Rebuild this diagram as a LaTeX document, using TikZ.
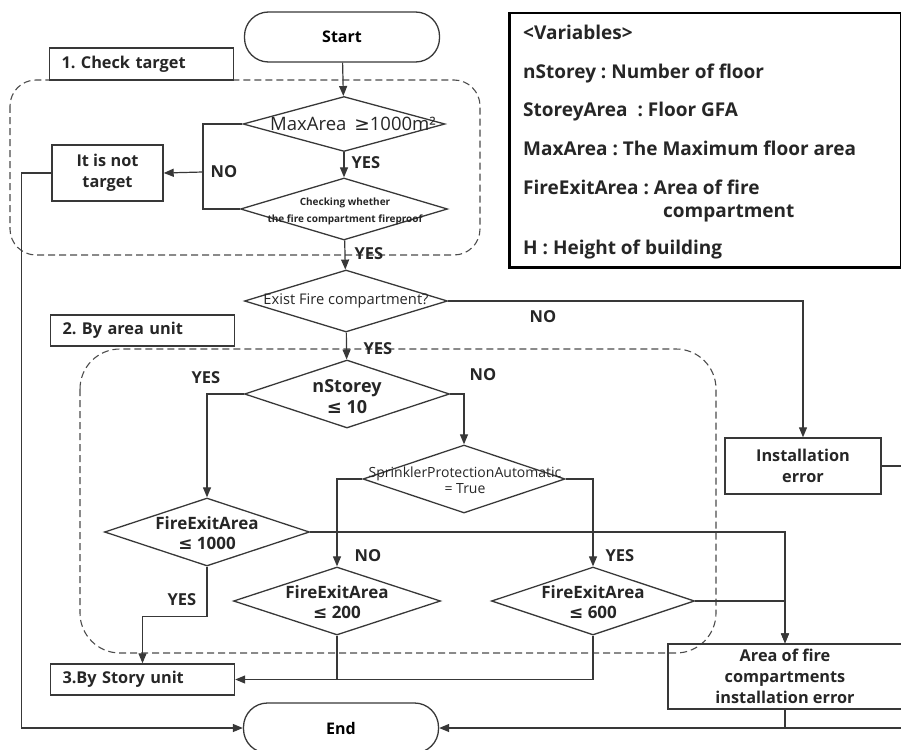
\documentclass[tikz,border=0pt]{standalone}
\usepackage{fontspec}
\setmainfont{Open Sans}
\newfontfamily\symfont{DejaVu Sans}
\newcommand{\lesym}{{\symfont ≤}}
\newcommand{\gesym}{{\symfont ≥}}
\frenchspacing
\usetikzlibrary{shapes.geometric,arrows.meta}

\begin{document}
\begin{tikzpicture}[x=1pt,y=-1pt,
  ink/.style={draw=black!78, line width=1.2pt},
  line/.style={ink},
  arr/.style={ink, -{Triangle[length=10pt,width=8pt]}},
  term/.style={ink, line width=1.3pt, rounded corners=24pt, minimum width=195pt,
    minimum height=50pt, inner sep=0pt, font=\bfseries\fontsize{16}{18}\selectfont},
  dia/.style={ink, line width=1.3pt, diamond, inner sep=0pt},
  dtext/.style={inner sep=0pt, align=center, text=black!85},
  box/.style={ink, line width=1.4pt, rectangle, inner sep=0pt, align=center,
    text=black!85, font=\bfseries\fontsize{16.3}{21}\selectfont},
  tagbox/.style={box, text width=160pt, align=left, inner xsep=12pt, minimum height=32pt},
  grp/.style={draw=black!70, line width=1.1pt, dash pattern=on 7pt off 4pt},
  lbl/.style={inner sep=0pt, text=black!85, font=\bfseries\fontsize{16.5}{18}\selectfont},
  var/.style={anchor=base west, inner sep=0pt, text=black!85,
    font=\bfseries\fontsize{19}{21}\selectfont},
]
\useasboundingbox (0,0) rectangle (901,749);

% dashed group frames
\draw[grp, rounded corners=26pt] (10,80) rectangle (480,255);
\draw[grp, rounded corners=40pt] (80,349) rectangle (716,653);

% group tags
\node[tagbox, fill=white, minimum height=32pt] (tag1) at (141.5,64) {1. Check target};
\node[tagbox, fill=white, minimum height=31pt] (tag2) at (142.5,330.5) {2. By area unit};
\node[tagbox, fill=white, minimum height=31pt] (tag3) at (142.5,679.5) {3.By Story unit};

% terminators
\node[term] (start) at (342,37) {Start};
\node[term] (end) at (341,728) {End};

% decisions
\node[dia, minimum width=202pt, minimum height=55pt] (d1) at (344,124) {};
\node[dtext, font=\fontsize{18.5}{20}\selectfont] (d1t) at (353,124) {MaxArea \,\gesym1000m²};

\node[dia, minimum width=207pt, minimum height=62pt] (d2) at (344,209) {};
\node[dtext, font=\bfseries\fontsize{10}{17}\selectfont] (d2t) at (345,211) {Checking whether\\the fire compartment fireproof};

\node[dia, minimum width=203pt, minimum height=62pt] (d3) at (346,301) {};
\node[dtext, font=\fontsize{14.7}{16}\selectfont] (d3t) at (346,301) {Exist Fire compartment?};

\node[dia, minimum width=205pt, minimum height=68pt] (d4) at (347,394) {};
\node[dtext, font=\bfseries\fontsize{18}{21}\selectfont] (d4t) at (347,397) {nStorey\\\lesym{} 10};

\node[dia, minimum width=205pt, minimum height=68pt] (d5) at (207,532) {};
\node[dtext, font=\bfseries\fontsize{17}{20.5}\selectfont] (d5t) at (207,533) {FireExitArea\\\lesym{} 1000};

\node[dia, minimum width=202pt, minimum height=68pt] (d6) at (464,479) {};
\node[dtext, font=\fontsize{14}{16.5}\selectfont] (d6t) at (465,480) {SprinklerProtectionAutomatic\\= True};

\node[dia, minimum width=207pt, minimum height=68pt] (d7) at (337,601) {};
\node[dtext, font=\bfseries\fontsize{17}{20.5}\selectfont] (d7t) at (337,602) {FireExitArea\\\lesym{} 200};

\node[dia, minimum width=203pt, minimum height=68pt] (d8) at (593,601) {};
\node[dtext, font=\bfseries\fontsize{17}{20.5}\selectfont] (d8t) at (593,602) {FireExitArea\\\lesym{} 600};

% process boxes
\node[box, minimum width=111pt, minimum height=56pt] (nt) at (107.5,173) {It is not\\target};
\node[box, minimum width=156pt, minimum height=56pt] (ie) at (803,466) {Installation\\error};
\node[box, minimum width=234pt, minimum height=65pt] (af) at (785,676.5) {Area of fire\\compartments\\installation error};

% variables legend
\node[draw=black, line width=2.5pt, minimum width=392pt, minimum height=254pt,
  inner sep=0pt, anchor=north west] (vars) at (508,12) {};
\node[var] (v0) at (523,40) {<Variables>};
\node[var] (v1) at (523,79) {nStorey : Number of floor};
\node[var] (v2) at (523,117) {StoreyArea \ : Floor GFA};
\node[var] (v3) at (523,155) {MaxArea : The Maximum floor area};
\node[var] (v4) at (523,194) {FireExitArea : Area of fire};
\node[var] (v5) at (663,217) {compartment};
\node[var] (v6) at (523,254) {H : Height of building};

% 1. check target
\draw[arr] (start) -- (d1);
\draw[arr] (d1) -- (d2);
\node[lbl] (y1) at (366,163) {YES};
\coordinate (nj) at (203,172);
\draw[line] (d1.west) -| (nj);
\draw[line] (d2.west) -| (nj);
\draw[arr] (nj) -- (nt.east);
\node[lbl] (n1) at (224,172) {NO};
\draw[arr] (nt.west) -- ++(-30,0) |- (end.west);

% fire compartment existence
\draw[arr] (d2) -- (d3);
\node[lbl] (y2) at (369,254) {YES};
\draw[arr] (d3.east) -| (ie.north);
\node[lbl] (n2) at (543,317) {NO};
\draw[arr] (d3) -- (d4);
\node[lbl] (y3) at (378,349) {YES};

% 2. by area unit
\draw[arr] (d4.west) -| (d5.north);
\node[lbl] (y4) at (206,378) {YES};
\draw[arr] (d4.east) -| (d6.north);
\node[lbl] (n4) at (483,375) {NO};
\draw[arr] (d6.west) -| (d7.north);
\node[lbl] (n6) at (368,556) {NO};
\draw[arr] (d6.east) -| (d8.north);
\node[lbl] (y6) at (620,556) {YES};
\draw[arr] (d5.east) -| (af.north);
\draw[arr] (d8.east) -| (af.north);
\draw[arr] (d5.south) -- ++(0,50) -| (tag3.north);
\node[lbl] (y5) at (182,600) {YES};
\draw[arr] (d7.south) |- (tag3.east);
\draw[line] (d8.south) |- (d7.south |- tag3.east);

% error outputs to End
\draw[arr] (ie.east) -- ++(26,0) |- (end.east);
\draw[line] (af.south) -- (af.south |- end.east);
\end{tikzpicture}
\end{document}
